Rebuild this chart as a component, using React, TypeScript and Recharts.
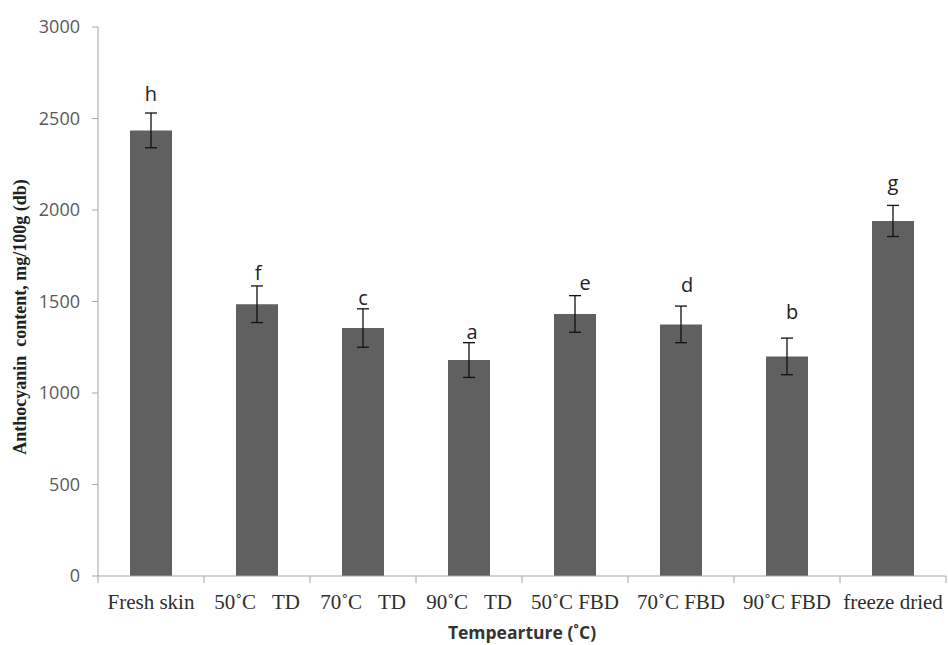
import { BarChart, Bar, XAxis, YAxis, ErrorBar, LabelList, Label } from "recharts";

const categories = [
  "Fresh skin",
  "50˚C\u00A0\u00A0\u00A0TD",
  "70˚C\u00A0\u00A0\u00A0TD",
  "90˚C\u00A0\u00A0\u00A0TD",
  "50˚C FBD",
  "70˚C FBD",
  "90˚C FBD",
  "freeze dried",
];
const anthocyanin = [2435, 1485, 1355, 1180, 1432, 1375, 1200, 1940];
const stdErr = [95, 100, 105, 95, 100, 100, 100, 85];
const letters = ["h", "f", "c", "a", "e", "d", "b", "g"];
const yTicks = [0, 500, 1000, 1500, 2000, 2500, 3000];

// hand-placed letters in the original sit at slightly different heights
const letterLift = [12, 6, 4, 4, 6, 14, 19, 15];
const letterShift = [0, 1, 0, 3, 10, 6, 5, 0];

const data = categories.map((name, i) => ({
  name,
  value: anthocyanin[i],
  err: stdErr[i],
  letter: letters[i],
}));

const AXIS = "#a6a6a6";

const CategoryTick = (props: any) => {
  const { x, y, payload, index, visibleTicksCount } = props;
  const half = payload && payload.offset > 0 ? payload.offset : 53;
  const top = y - 17;
  return (
    <g>
      <line x1={x - half} y1={top} x2={x - half} y2={top + 7} stroke={AXIS} />
      {index === visibleTicksCount - 1 && (
        <line x1={x + half} y1={top} x2={x + half} y2={top + 7} stroke={AXIS} />
      )}
      <text
        x={x}
        y={y + 16}
        textAnchor="middle"
        fontFamily="'Liberation Serif', serif"
        fontSize={21}
        fill="#2e2e2e"
      >
        {payload.value}
      </text>
    </g>
  );
};

const LetterLabel = (props: any) => {
  const vb = props.viewBox ?? props;
  const { x, y, width, height } = vb;
  const i = props.index;
  const v = anthocyanin[i];
  const errPx = (stdErr[i] * Math.abs(height)) / v;
  return (
    <text
      x={x + width / 2 + letterShift[i]}
      y={y - errPx - letterLift[i]}
      textAnchor="middle"
      fontFamily="'Open Sans', sans-serif"
      fontSize={20}
      fill="#222"
    >
      {props.value}
    </text>
  );
};

const YTitle = () => (
  <text
    transform="translate(26, 317) rotate(-90)"
    textAnchor="middle"
    fontFamily="'Liberation Serif', serif"
    fontWeight="bold"
    fontSize={18}
    fill="#222"
  >
    {"Anthocyanin\u00A0 content, mg/100g (db)"}
  </text>
);

const App = () => (
  <div style={{ position: "absolute", left: 0, top: 0, background: "#fff" }}>
    <BarChart
      width={948}
      height={645}
      data={data}
      margin={{ top: 27, right: 2, bottom: 0, left: 0 }}
    >
      <XAxis
        dataKey="name"
        height={69}
        stroke={AXIS}
        tickLine={false}
        tickSize={0}
        tickMargin={17}
        interval={0}
        tick={<CategoryTick />}
      >
        <Label
          value="Tempearture (˚C)"
          position="insideBottom"
          offset={6}
          style={{
            fontFamily: "'Open Sans', sans-serif",
            fontWeight: "bold",
            fontSize: 17.5,
            fill: "#333",
          }}
        />
      </XAxis>
      <YAxis
        width={98}
        domain={[0, 3000]}
        ticks={yTicks}
        interval={0}
        stroke={AXIS}
        tickSize={6}
        tickMargin={12}
        tick={{ fill: "#595959", fontSize: 18, fontFamily: "'Open Sans', sans-serif" }}
        label={<YTitle />}
      />
      <Bar dataKey="value" fill="#606060" barSize={42} isAnimationActive={false}>
        <ErrorBar dataKey="err" width={6} stroke="#111" strokeWidth={1.3} direction="y" />
        <LabelList dataKey="letter" content={<LetterLabel />} />
      </Bar>
    </BarChart>
  </div>
);

export default App;
